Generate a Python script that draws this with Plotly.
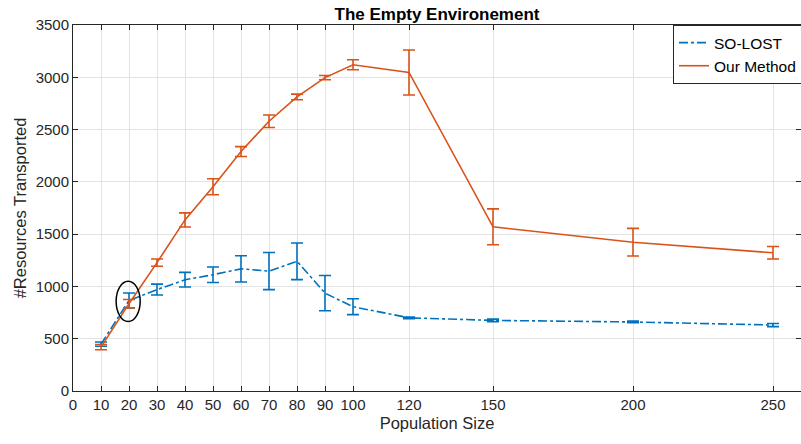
import plotly.graph_objects as go

pop = [10, 20, 30, 40, 50, 60, 70, 80, 90, 100, 120, 150, 200, 250]
solost_mean = [448, 865, 970, 1064, 1112, 1168, 1147, 1240, 936, 806, 700, 675, 660, 631]
solost_err = [20, 72, 52, 70, 74, 125, 178, 175, 168, 76, 8, 12, 8, 15]
ours_mean = [420, 835, 1228, 1636, 1953, 2290, 2580, 2812, 2997, 3120, 3046, 1570, 1423, 1322]
ours_err = [25, 40, 35, 67, 76, 47, 60, 27, 20, 48, 215, 172, 132, 60]
xticks = [0, 10, 20, 30, 40, 50, 60, 70, 80, 90, 100, 120, 150, 200, 250]
yticks = [0, 500, 1000, 1500, 2000, 2500, 3000, 3500]

BLUE = "#0072BD"
ORANGE = "#D95319"
AX = "#262626"

fig = go.Figure()
fig.add_trace(go.Scatter(
    x=pop, y=solost_mean, name="SO-LOST", mode="lines",
    line=dict(color=BLUE, width=1.6, dash="dashdot"),
    error_y=dict(type="data", array=solost_err, visible=True, color=BLUE, thickness=1.6, width=6),
))
fig.add_trace(go.Scatter(
    x=pop, y=ours_mean, name="Our Method", mode="lines",
    line=dict(color=ORANGE, width=1.6),
    error_y=dict(type="data", array=ours_err, visible=True, color=ORANGE, thickness=1.6, width=6),
))

# highlight ellipse around the crossing at population 20
fig.add_shape(type="circle", xref="x", yref="y",
              x0=pop[1] - 4.6, x1=pop[1] + 4.0, y0=665, y1=1050,
              line=dict(color="black", width=1.5))

fig.update_layout(
    width=801, height=444,
    margin=dict(l=73, r=0, t=25, b=53, autoexpand=False),
    paper_bgcolor="white", plot_bgcolor="white",
    font=dict(family="Liberation Sans, Arial, sans-serif", size=15, color=AX),
    title=dict(text="<b>The Empty Environement</b>", xref="paper", x=0.5, xanchor="center",
               y=0.968, yanchor="middle", font=dict(size=17, color="black")),
    showlegend=True,
    legend=dict(x=(673 - 73) / 728, xanchor="left", y=1, yanchor="top",
                bgcolor="white", bordercolor=AX, borderwidth=1,
                font=dict(size=15.5, color="black"),
                tracegroupgap=0, itemwidth=30),
)
fig.update_xaxes(
    range=[0, 260], tickmode="array", tickvals=xticks,
    ticktext=[str(v) for v in xticks], automargin=False,
    tickfont=dict(size=15),
    title=dict(text="Population Size", standoff=5, font=dict(size=16.5)),
    showgrid=True, gridcolor="#e3e3e3", gridwidth=1,
    showline=True, linecolor=AX, linewidth=1, mirror="ticks",
    ticks="inside", ticklen=5, tickcolor=AX, zeroline=False,
)
fig.update_yaxes(
    range=[0, 3500], tickmode="array", tickvals=yticks, automargin=False,
    tickfont=dict(size=15),
    title=dict(text="#Resources Transported", standoff=4, font=dict(size=16.5)),
    showgrid=True, gridcolor="#e3e3e3", gridwidth=1,
    showline=True, linecolor=AX, linewidth=1, mirror="ticks",
    ticks="inside", ticklen=5, tickcolor=AX, zeroline=False,
)

# remove the default 8px page margin so the figure fills the window from its corner
fig.write_html("out.html", config={"displayModeBar": False},
               post_script="document.body.style.margin='0px';")
